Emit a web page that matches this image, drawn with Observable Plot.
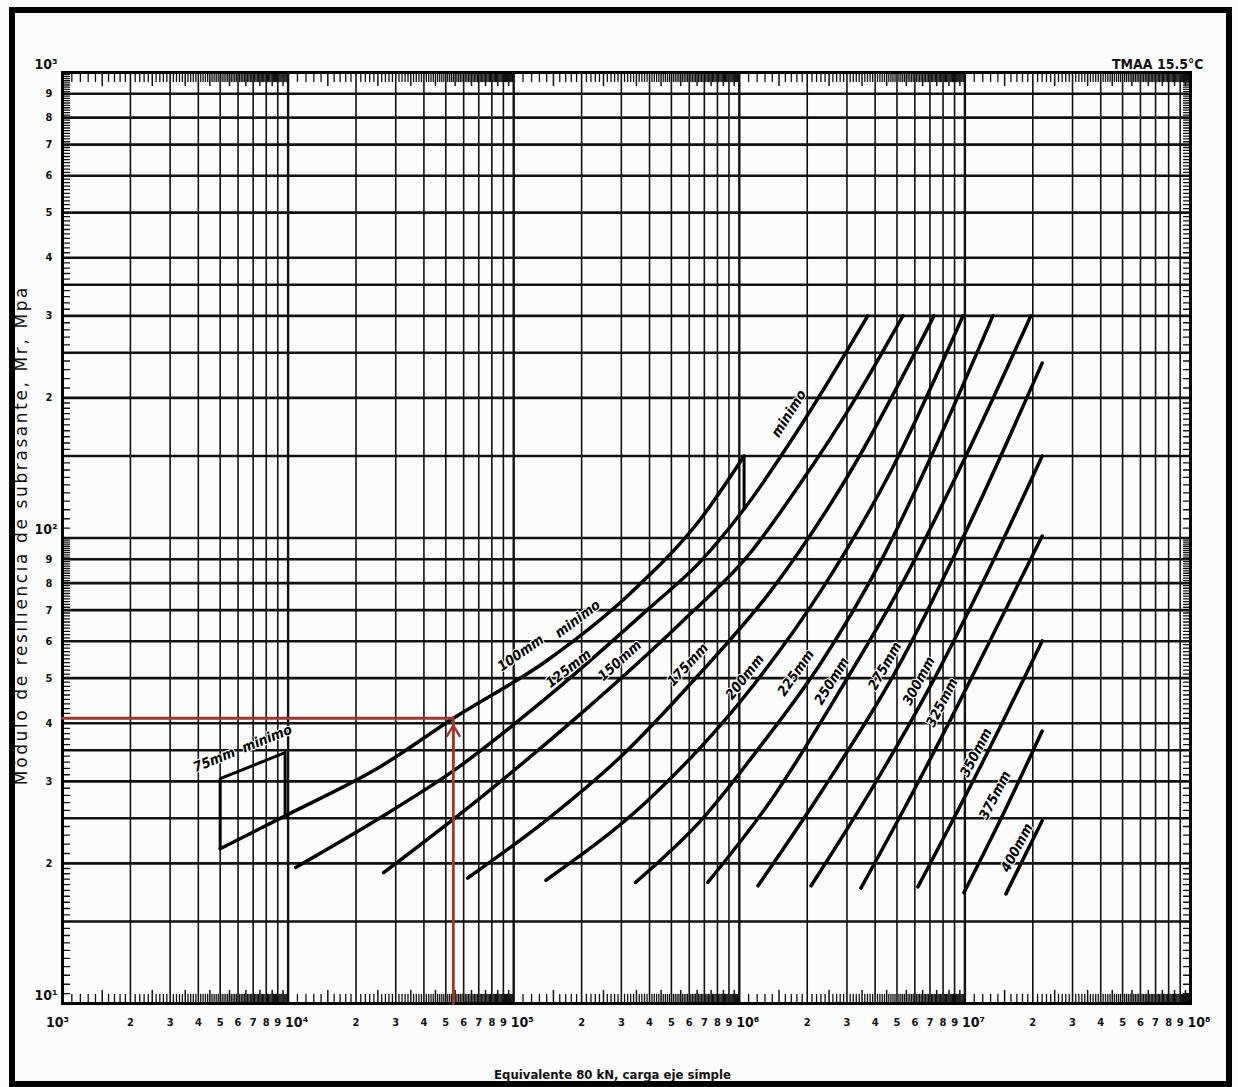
<!DOCTYPE html>
<html><head><meta charset="utf-8">
<script src="https://cdn.jsdelivr.net/npm/d3@7"></script>
<script src="https://cdn.jsdelivr.net/npm/@observablehq/plot@0.6"></script>
<style>
body{margin:0;background:#fff;}
#wrap{position:relative;width:1238px;height:1087px;overflow:hidden;background:#fcfcfc;}
#chart{position:absolute;left:0;top:0;}
#border{position:absolute;left:9px;top:7px;width:1223px;height:1080px;border:6px solid #000;box-sizing:border-box;pointer-events:none;}
</style></head>
<body><div id="wrap"><div id="chart"></div><div id="border"></div></div>
<script>
// ---- axes / tick values ----
const xDecades = [1e3, 1e4, 1e5, 1e6, 1e7];
const xMantissas = [2, 3, 4, 5, 6, 7, 8, 9];
const xPowers = [1e3, 1e4, 1e5, 1e6, 1e7, 1e8];
const xPowerLabels = ["10³", "10⁴", "10⁵", "10⁶", "10⁷", "10⁸"];
const yDecades = [10, 100];
const yGridMantissas = [1, 1.5, 2, 2.5, 3, 3.5, 4, 5, 6, 7, 8, 9];
const yLabelMantissas = [2, 3, 4, 5, 6, 7, 8, 9];
const yPowers = [10, 100, 1000];
const yPowerLabels = ["10¹", "10²", "10³"];

// ---- design curves: ESAL (80 kN) vs Mr (MPa) ----
const esal100 = [5000, 9700, 25700, 54000, 140000, 330000, 675000, 1050000];
const mr100   = [21.5, 25.3, 32.3, 41, 54.5, 76.2, 110, 150];
const esal125 = [10800, 25700, 54000, 140000, 390000, 675000, 1050000, 1870000, 3710000];
const mr125   = [19.6, 25.1, 31.6, 45.4, 70, 89.2, 115.4, 174, 300];
const esal150 = [26500, 71400, 198000, 550000, 1090000, 1870000, 3120000, 5310000];
const mr150   = [19.1, 27.7, 41.9, 65.7, 91.5, 131.2, 192, 300];
const esal175 = [62500, 141500, 298000, 655000, 1380000, 3120000, 7290000];
const mr175   = [18.6, 24.9, 33.9, 50.6, 77, 139.3, 300];
const esal200 = [139000, 393000, 1160000, 2300000, 4700000, 9800000];
const mr200   = [18.4, 27.3, 48.4, 77, 139.3, 300];
const esal225 = [347000, 675000, 1245000, 2300000, 4240000, 7430000, 13300000];
const mr225   = [18.2, 24.7, 35.8, 53.9, 89.2, 157.5, 300];
const esal250 = [725000, 1380000, 2820000, 5200000, 10100000, 19600000];
const mr250   = [18.2, 27.3, 47.4, 78.9, 150, 300];
const esal275 = [1210000, 2300000, 4890000, 10630000, 22000000];
const mr275   = [17.9, 28.4, 51.3, 108.8, 237.5];
const esal300 = [2080000, 3830000, 6920000, 12390000, 22000000];
const mr300   = [17.9, 28.7, 47.4, 82.9, 150];
const esal325 = [3460000, 5470000, 8940000, 14440000, 22000000];
const mr325   = [17.7, 26.6, 42.1, 67, 101];
const esal350 = [6190000, 12400000, 22000000];
const mr350   = [17.8, 34.1, 60.1];
const esal375 = [9900000, 15400000, 22000000];
const mr375   = [17.3, 26.6, 38.5];
const esal400 = [15200000, 22000000];
const mr400   = [17.2, 24.7];

// minimum-thickness boxes
const esal75 = [5000, 5000, 9700, 9700];
const mr75   = [21.5, 30.4, 34.6, 25.3];
const esalBox100 = [1050000, 1050000];
const mrBox100   = [150, 115.4];

// worked example (red)
const redEsal = [1000, 54000, 54000];
const redMr   = [41, 41, 10];
const arrowEsal = [54000, 54000];
const arrowMr   = [33, 39.6];

// curve labels
const labelText = ["75mm  minimo","100mm","minimo","125mm","minimo","150mm","175mm","200mm","225mm","250mm","275mm","300mm","325mm","350mm","375mm","400mm"];
const labelEsal = [6280, 107400, 192000, 175000, 1660000, 295000, 591000, 1058000, 1780000, 2570000, 4420000, 6250000, 7910000, 11190000, 13590000, 17000000];
const labelMr   = [35.3, 56.6, 67, 52.4, 185, 54.5, 53.4, 50.3, 51.3, 49.3, 53.1, 49.3, 44.3, 34.6, 28, 21.6];
const labelAngle = [-22, -35, -37, -38, -58, -42, -47, -52, -55, -58, -60, -62, -63, -63, -63, -62];

// ---- build tables ----
const curveSets = [
  ["100mm", esal100, mr100], ["125mm", esal125, mr125], ["150mm", esal150, mr150],
  ["175mm", esal175, mr175], ["200mm", esal200, mr200], ["225mm", esal225, mr225],
  ["250mm", esal250, mr250], ["275mm", esal275, mr275], ["300mm", esal300, mr300],
  ["325mm", esal325, mr325], ["350mm", esal350, mr350], ["375mm", esal375, mr375],
  ["400mm", esal400, mr400]
];
const curveRows = curveSets.flatMap(([name, es, ms]) => es.map((e, i) => ({name, e, m: ms[i]})));
const boxRows = [
  ...esal75.map((e, i) => ({name: "75mm", e, m: mr75[i]})),
  ...esalBox100.map((e, i) => ({name: "box100", e, m: mrBox100[i]}))
];
const redRows = redEsal.map((e, i) => ({e, m: redMr[i]}));
const labelRows = labelText.map((t, i) => ({t, e: labelEsal[i], m: labelMr[i], a: labelAngle[i]}));

const xGrid = [...xDecades.flatMap(d => [1, ...xMantissas].map(k => k * d)), 1e8];
const yGrid = [...yDecades.flatMap(d => yGridMantissas.map(k => k * d)), 1000];
const xDigits = xDecades.flatMap(d => xMantissas.map(k => ({v: k * d, t: String(k)})));
const yDigits = yDecades.flatMap(d => yLabelMantissas.map(k => ({v: k * d, t: String(k)})));
const xPowerRows = xPowers.map((v, i) => ({v, t: xPowerLabels[i]}));

const xMinorSteps = d3.range(11, 100).filter(i => i % 10 !== 0);
const xMinor = xDecades.flatMap(d => xMinorSteps.filter(i => i % 10 !== 5).map(i => i / 10 * d));
const xHalf = xDecades.flatMap(d => xMinorSteps.filter(i => i % 10 === 5).map(i => i / 10 * d));
const yMinorSteps = [...d3.range(21, 40).map(i => i / 20), ...d3.range(21, 100).filter(i => i % 10 !== 0).map(i => i / 10)];
const yMinor = yDecades.flatMap(d => yMinorSteps.map(k => k * d));

const tickShape = {draw(ctx, l) { ctx.moveTo(0, 0); ctx.lineTo(0, -l); }};
const font = "'Liberation Sans Narrow','DejaVu Sans Condensed','Liberation Sans',Arial,sans-serif";

const chart = Plot.plot({
  width: 1238, height: 1087,
  marginLeft: 62, marginRight: 48, marginTop: 72, marginBottom: 84,
  x: {type: "log", domain: [1e3, 1e8], axis: null},
  y: {type: "log", domain: [10, 1000], axis: null},
  style: {background: "transparent", fontFamily: font, color: "#111"},
  marks: [
    Plot.ruleX(xGrid, {stroke: "#111", strokeWidth: d => [1e3,1e4,1e5,1e6,1e7,1e8].includes(d) ? 2.4 : 1.6}),
    Plot.ruleY(yGrid, {stroke: "#111", strokeWidth: 2.6}),
    // minor ticks on the frame edges
    Plot.vector(xMinor, {x: d => d, y: 10, length: 9, rotate: 0, anchor: "start", shape: tickShape, stroke: "#111", strokeWidth: 1.3}),
    Plot.vector(xHalf, {x: d => d, y: 10, length: 13, rotate: 0, anchor: "start", shape: tickShape, stroke: "#111", strokeWidth: 1.5}),
    Plot.vector(xMinor, {x: d => d, y: 1000, length: 9, rotate: 180, anchor: "start", shape: tickShape, stroke: "#111", strokeWidth: 1.3}),
    Plot.vector(xHalf, {x: d => d, y: 1000, length: 13, rotate: 180, anchor: "start", shape: tickShape, stroke: "#111", strokeWidth: 1.5}),
    Plot.vector(yMinor, {x: 1e3, y: d => d, length: 7, rotate: 90, anchor: "start", shape: tickShape, stroke: "#111", strokeWidth: 1.3}),
    Plot.vector(yMinor, {x: 1e8, y: d => d, length: 7, rotate: -90, anchor: "start", shape: tickShape, stroke: "#111", strokeWidth: 1.3}),
    Plot.frame({stroke: "#000", strokeWidth: 3}),
    // design curves
    Plot.line(curveRows, {x: "e", y: "m", z: "name", stroke: "#000", strokeWidth: 3.5, curve: "monotone-x"}),
    Plot.line(boxRows, {x: "e", y: "m", z: "name", stroke: "#000", strokeWidth: 3}),
    // worked example
    Plot.line(redRows, {x: "e", y: "m", stroke: "#a3352e", strokeWidth: 2.8}),
    Plot.arrow([0], {x1: arrowEsal[0], x2: arrowEsal[1], y1: arrowMr[0], y2: arrowMr[1], stroke: "#a3352e", strokeWidth: 2.4, headLength: 9}),
    // curve labels
    Plot.text(labelRows, {x: "e", y: "m", text: "t", rotate: "a", fontSize: 14, fontStyle: "italic", fontWeight: 600, fill: "#000", stroke: "#fcfcfc", strokeWidth: 2, paintOrder: "stroke"}),
    // tick labels
    Plot.text(xDigits, {x: "v", y: 10, text: "t", dy: 19, fontSize: 11, fontWeight: 700}),
    Plot.text(xPowerRows.slice(0, 1), {x: "v", y: 10, text: "t", dy: 19, dx: -5, fontSize: 14, fontWeight: 700}),
    Plot.text(xPowerRows.slice(1), {x: "v", y: 10, text: "t", dy: 19, dx: -3, textAnchor: "start", fontSize: 14, fontWeight: 700}),
    Plot.text(yDigits, {x: 1e3, y: "v", text: "t", dx: -10, textAnchor: "end", fontSize: 11, fontWeight: 700}),
    Plot.text(yPowers, {x: 1e3, y: d => d, text: (d, i) => yPowerLabels[i], dx: -5, dy: -8, textAnchor: "end", fontSize: 14, fontWeight: 700}),
    // titles
    Plot.text(["Equivalente 80 kN, carga eje simple"], {frameAnchor: "bottom", dx: -14, dy: 75, fontSize: 13, fontWeight: 600}),
    Plot.text(["Módulo de resiliencia de subrasante, Mr, Mpa"], {frameAnchor: "left", textAnchor: "middle", dx: -41, dy: -3, rotate: -90, fontSize: 17, fontFamily: "'DejaVu Sans','Liberation Sans',sans-serif", fontWeight: 500}),
    Plot.text(["TMAA 15.5°C"], {frameAnchor: "top-right", lineAnchor: "bottom", dx: 13, dy: -4, textAnchor: "end", fontSize: 14, fontWeight: 600})
  ]
});
d3.select(chart).selectAll("text")
  .filter(function() { return this.textContent.startsWith("Módulo"); })
  .attr("letter-spacing", "2.6");
document.getElementById("chart").appendChild(chart);
</script>
</body></html>
